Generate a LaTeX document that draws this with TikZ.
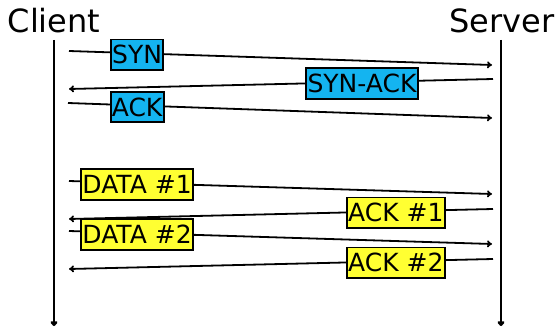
\documentclass[tikz,border=0pt]{standalone}
\usepackage{fontspec}
\setmainfont{DejaVu Sans}
\usetikzlibrary{arrows.meta}
\definecolor{syncol}{RGB}{20,180,240}
\definecolor{datacol}{RGB}{255,255,50}
\begin{document}
\begin{tikzpicture}[x=1pt,y=-1pt,
  party/.style={font=\fontsize{32}{36}\selectfont, inner sep=0pt, anchor=base},
  lifeline/.style={line width=2.6pt, -{To[length=5pt,width=7pt]}},
  msg/.style={line width=1.8pt, -{To[length=5pt,width=7pt]}},
  lbl/.style={draw, line width=1.9pt, font=\fontsize{25}{29}\selectfont,
    text height=18.2pt, text depth=0pt, inner xsep=1.2pt, inner ysep=6.2pt,
    yshift=-1.5pt},
  ctl/.style={lbl, fill=syncol},
  dat/.style={lbl, fill=datacol}]
\useasboundingbox (0,0) rectangle (560,329);

% participants and their time lines
\node[party] (client) at (54,33) {Client};
\node[party] (server) at (502,33) {Server};
\coordinate (ctop) at (54,40);
\coordinate (cbot) at (54,326);
\coordinate (stop) at (501,40);
\coordinate (sbot) at (501,326);
\draw[lifeline] (ctop) -- (cbot);
\draw[lifeline] (stop) -- (sbot);

% end points of the messages
\coordinate (c1) at (69,51);   \coordinate (s1) at (492,65);
\coordinate (s2) at (493,79);  \coordinate (c2) at (69,89);
\coordinate (c3) at (68,103);  \coordinate (s3) at (492,118);
\coordinate (c4) at (69,181);  \coordinate (s4) at (492,194);
\coordinate (s5) at (493,209); \coordinate (c5) at (69,219);
\coordinate (c6) at (69,231);  \coordinate (s6) at (492,244);
\coordinate (s7) at (493,259); \coordinate (c7) at (69,269);

% three-way handshake
\draw[msg] (c1) -- node[ctl, pos=0.161] (syn) {SYN} (s1);
\draw[msg] (s2) -- node[ctl, pos=0.309] (synack) {SYN-ACK} (c2);
\draw[msg] (c3) -- node[ctl, pos=0.163] (ack) {ACK} (s3);

% data transfer
\draw[msg] (c4) -- node[dat, pos=0.161] (data1) {DATA \#1} (s4);
\draw[msg] (s5) -- node[dat, pos=0.229] (ack1) {ACK \#1} (c5);
\draw[msg] (c6) -- node[dat, pos=0.161] (data2) {DATA \#2} (s6);
\draw[msg] (s7) -- node[dat, pos=0.229] (ack2) {ACK \#2} (c7);
\end{tikzpicture}
\end{document}
